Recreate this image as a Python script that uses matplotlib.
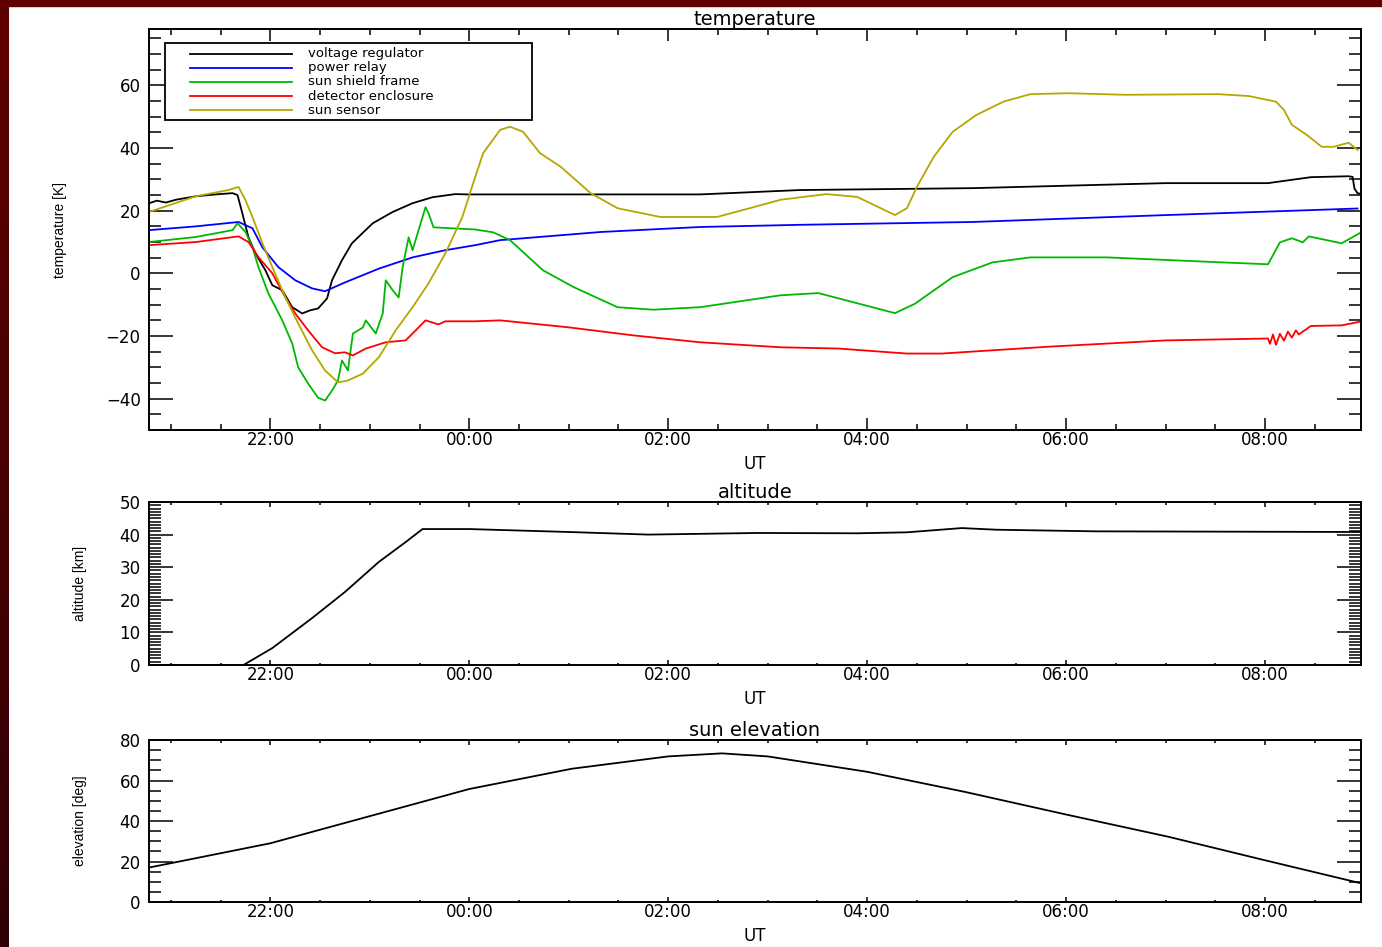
import numpy as np
import matplotlib
matplotlib.use("Agg")
import matplotlib.pyplot as plt
import matplotlib.ticker as mticker

# time axis in hours from 00:00 of the launch day (24 = 00:00 next day)
x_start, x_end = 20.78, 32.965

# --- temperatures -------------------------------------------------------------
t_volt = [20.78, 20.86, 20.95, 21.05, 21.25, 21.45, 21.62, 21.67, 21.72, 21.78,
          21.85, 21.95, 22.02, 22.12, 22.22, 22.32, 22.40, 22.48, 22.57, 22.62,
          22.72, 22.82, 23.03, 23.23, 23.43, 23.63, 23.86, 23.98, 25.0, 26.32,
          27.33, 29.06, 31.0, 32.03, 32.46, 32.84, 32.88, 32.90, 32.93, 32.96]
volt_reg = [22.4, 23.2, 22.6, 23.5, 24.6, 25.2, 25.6, 25.0, 19.0, 11.5,
            6.4, 1.0, -3.8, -5.4, -10.8, -12.8, -11.8, -11.2, -8.0, -2.2,
            4.2, 9.6, 16.0, 19.6, 22.4, 24.3, 25.3, 25.2, 25.2, 25.2,
            26.6, 27.2, 28.8, 28.8, 30.7, 31.0, 30.8, 27.0, 25.6, 25.4]

t_relay = [20.78, 21.25, 21.68, 21.82, 21.92, 22.08, 22.25, 22.42, 22.55, 22.75,
           23.09, 23.43, 23.76, 24.06, 24.31, 25.32, 26.32, 27.33, 29.06, 31.0,
           32.93]
power_relay = [13.8, 15.0, 16.4, 14.4, 8.3, 2.0, -2.2, -4.8, -5.7, -2.9,
               1.5, 5.1, 7.4, 9.0, 10.6, 13.2, 14.8, 15.5, 16.4, 18.6,
               20.7]

t_shield = [20.78, 21.25, 21.62, 21.67, 21.75, 21.82, 21.88, 21.98, 22.12, 22.22,
            22.28, 22.38, 22.48, 22.55, 22.62, 22.68, 22.72, 22.78, 22.83, 22.93,
            22.96, 23.06, 23.13, 23.16, 23.23, 23.29, 23.33, 23.39, 23.43, 23.49,
            23.56, 23.59, 23.64, 24.06, 24.24, 24.41, 24.74, 25.05, 25.49, 25.85,
            26.32, 27.13, 27.51, 28.28, 28.48, 28.86, 29.26, 29.64, 30.41, 31.57,
            32.03, 32.15, 32.27, 32.38, 32.44, 32.77, 32.95]
shield_frame = [10.0, 11.6, 13.8, 16.0, 13.2, 8.4, 2.0, -6.4, -15.0, -22.4,
                -30.0, -35.2, -39.7, -40.6, -37.4, -34.2, -27.8, -31.0, -19.2, -17.3,
                -15.0, -19.2, -12.8, -2.2, -5.4, -7.7, 2.0, 11.5, 7.4, 13.8,
                21.1, 19.2, 14.7, 14.0, 13.1, 10.6, 1.0, -4.4, -10.8, -11.6,
                -10.8, -7.0, -6.3, -12.7, -9.7, -1.2, 3.5, 5.1, 5.1, 3.5,
                2.9, 9.9, 11.2, 9.9, 11.8, 9.6, 12.8]

t_detect = [20.78, 21.25, 21.68, 21.78, 21.88, 22.02, 22.15, 22.25, 22.38, 22.52,
            22.65, 22.75, 22.83, 22.96, 23.16, 23.36, 23.43, 23.56, 23.69, 23.76,
            24.06, 24.31, 24.99, 25.65, 26.32, 27.13, 27.71, 28.40, 28.75, 29.83,
            31.0, 32.03, 32.05, 32.08, 32.11, 32.15, 32.19, 32.23, 32.27, 32.31,
            32.34, 32.46, 32.77, 32.96]
detector_encl = [9.0, 10.0, 11.8, 10.0, 5.2, 0.0, -7.6, -12.8, -18.2, -23.6,
                 -25.5, -25.2, -26.2, -24.0, -22.0, -21.4, -19.2, -15.0, -16.3, -15.3,
                 -15.3, -15.0, -17.2, -19.8, -22.0, -23.6, -24.0, -25.6, -25.6, -23.4,
                 -21.4, -20.8, -22.5, -19.5, -22.8, -19.3, -21.5, -18.6, -20.5, -18.2,
                 -19.5, -16.8, -16.6, -15.4]

t_sensor = [20.78, 21.25, 21.58, 21.68, 21.75, 21.82, 21.92, 22.02, 22.15, 22.28,
            22.42, 22.55, 22.68, 22.78, 22.93, 23.09, 23.26, 23.43, 23.59, 23.76,
            23.93, 24.06, 24.14, 24.31, 24.41, 24.54, 24.71, 24.92, 25.22, 25.49,
            25.92, 26.49, 26.82, 27.13, 27.59, 27.90, 28.28, 28.40, 28.50, 28.67,
            28.86, 29.10, 29.37, 29.64, 30.02, 30.60, 31.53, 31.84, 32.11, 32.19,
            32.27, 32.42, 32.57, 32.69, 32.84, 32.93]
sun_sensor = [19.6, 24.6, 26.6, 27.6, 23.4, 18.0, 9.6, 2.0, -7.6, -16.0,
              -24.6, -31.0, -34.8, -34.2, -32.0, -26.8, -18.2, -10.8, -3.2, 6.4,
              18.0, 30.8, 38.4, 45.8, 46.8, 45.2, 38.4, 34.0, 25.6, 20.8,
              18.0, 18.0, 20.8, 23.5, 25.3, 24.4, 18.6, 20.8, 27.6, 37.2,
              45.2, 50.6, 54.8, 57.2, 57.5, 57.0, 57.2, 56.6, 54.8, 52.2,
              47.4, 44.2, 40.4, 40.4, 41.7, 39.4]

# --- altitude [km] ------------------------------------------------------------
t_alt = [20.78, 21.73, 22.02, 22.42, 22.75, 23.09, 23.36, 23.53, 24.0, 25.0,
         25.8, 26.9, 27.9, 28.4, 28.95, 29.3, 30.3, 32.96]
altitude = [0.0, 0.0, 5.2, 14.4, 22.4, 31.6, 37.7, 41.7, 41.7, 40.8,
            40.0, 40.5, 40.4, 40.7, 42.0, 41.5, 41.0, 40.8]

# --- sun elevation [deg] ------------------------------------------------------
t_elev = [20.78, 22.0, 24.0, 25.03, 26.0, 26.54, 27.0, 28.0, 28.99, 30.0,
          31.03, 32.0, 32.96]
elevation = [17.0, 29.0, 55.8, 65.8, 71.9, 73.4, 71.9, 64.3, 54.3, 43.2,
             32.2, 20.6, 9.3]

temp_series = [
    (t_volt, volt_reg, 'black', 'voltage regulator'),
    (t_relay, power_relay, '#0000ff', 'power relay'),
    (t_shield, shield_frame, '#00b800', 'sun shield frame'),
    (t_detect, detector_encl, '#ff0000', 'detector enclosure'),
    (t_sensor, sun_sensor, '#b4a800', 'sun sensor'),
]

plt.rcParams['font.family'] = 'DejaVu Sans'
plt.rcParams['axes.linewidth'] = 1.4

fig = plt.figure(figsize=(13.82, 9.47), dpi=100)
W, H = 1382., 947.


def px_axes(left, top, right, bottom):
    return fig.add_axes([left / W, 1 - bottom / H, (right - left) / W, (bottom - top) / H])


def hhmm(v, pos=None):
    return '%02d:00' % (int(round(v)) % 24)


def style(ax, xmaj, xmin, ymaj, ymin, ylo, yhi, title, ylabel, ylab_x):
    ax.set_xlim(x_start, x_end)
    ax.set_ylim(ylo, yhi)
    ax.xaxis.set_major_locator(mticker.MultipleLocator(2))
    ax.xaxis.set_minor_locator(mticker.MultipleLocator(0.5))
    ax.xaxis.set_major_formatter(mticker.FuncFormatter(hhmm))
    ax.yaxis.set_major_locator(mticker.MultipleLocator(ymaj))
    ax.yaxis.set_minor_locator(mticker.MultipleLocator(ymin))
    ax.tick_params(axis='both', which='both', direction='in', top=True, right=True,
                   width=1.1, labelsize=12)
    ax.tick_params(axis='x', which='major', length=xmaj, pad=1)
    ax.tick_params(axis='x', which='minor', length=xmin)
    ax.tick_params(axis='y', which='major', length=17.3, pad=6)
    ax.tick_params(axis='y', which='minor', length=8.6)
    ax.set_title(title, fontsize=14, pad=2)
    ax.set_xlabel('UT', fontsize=12, labelpad=4)
    ax.set_ylabel(ylabel, fontsize=10, family='Liberation Sans')
    ax.yaxis.set_label_coords(ylab_x, 0.5)


# temperature panel
ax1 = px_axes(149, 29, 1361, 430)
for t, v, c, lab in temp_series:
    ax1.plot(t, v, color=c, lw=1.3)
style(ax1, 8.6, 4.3, 20, 5, -50, 78, 'temperature', 'temperature [K]', -0.068)

# key box in the upper left corner, laid out in axes fractions
def ax_x(p):
    return (p - 149) / 1212.


def ax_y(p):
    return (430 - p) / 401.


ax1.add_patch(plt.Rectangle((ax_x(165), ax_y(120)), ax_x(532) - ax_x(165),
                            ax_y(43) - ax_y(120), transform=ax1.transAxes,
                            facecolor='white', edgecolor='black', lw=1.3, zorder=5))
for i, (t, v, c, lab) in enumerate(temp_series):
    yy = ax_y(53.5 + 14.2 * i)
    ax1.plot([ax_x(190), ax_x(292)], [yy, yy], color=c, lw=1.3,
             transform=ax1.transAxes, zorder=6)
    ax1.text(ax_x(308), yy, lab, transform=ax1.transAxes, fontsize=9.5,
             va='center', ha='left', zorder=6)

# altitude panel
ax2 = px_axes(149, 502, 1361, 665)
ax2.plot(t_alt, altitude, color='black', lw=1.3)
style(ax2, 3.6, 1.8, 10, 1, 0, 50, 'altitude', 'altitude [km]', -0.051)

# sun elevation panel
ax3 = px_axes(149, 740, 1361, 902)
ax3.plot(t_elev, elevation, color='black', lw=1.3)
style(ax3, 3.6, 1.8, 20, 5, 0, 80, 'sun elevation', 'elevation [deg]', -0.051)

# dark red frame along the top and left edges
fig.patches.append(plt.Rectangle((0, 1 - 6 / H), 1, 6 / H, transform=fig.transFigure,
                                 color='#600000', zorder=0))
strip = fig.add_axes([0, 0, 9 / W, 1])
grad = np.linspace(0, 1, 256)[:, None, None]
top_c = np.array([0x60, 0x00, 0x00]) / 255.
bot_c = np.array([0x30, 0x00, 0x05]) / 255.
strip.imshow(top_c * (1 - grad) + bot_c * grad, aspect='auto', extent=(0, 1, 0, 1))
strip.set_axis_off()

plt.savefig('out.png', dpi=100)
